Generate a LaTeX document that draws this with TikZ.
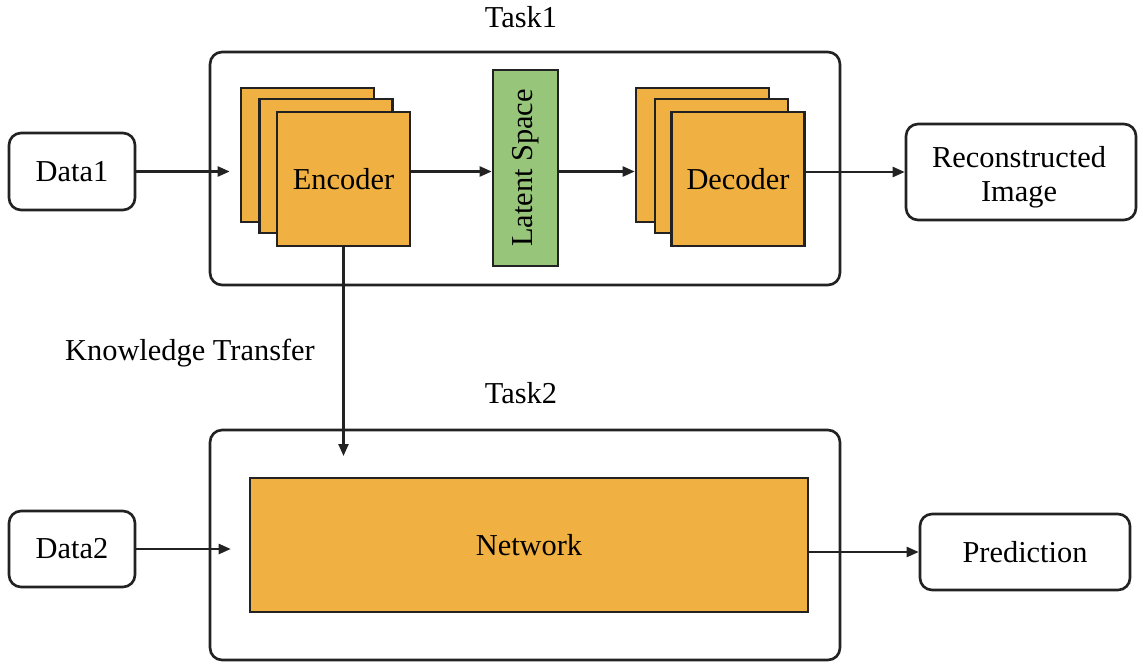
\documentclass[tikz,border=0pt]{standalone}
\usepackage{fontspec}
\setmainfont{Liberation Serif}
\usetikzlibrary{arrows.meta}
\definecolor{blockorange}{HTML}{F0B142}
\definecolor{latentgreen}{HTML}{97C67B}
\definecolor{linegray}{HTML}{222222}
\begin{document}
\begin{tikzpicture}[x=0.02cm, y=-0.02cm,
  every node/.style={font=\fontsize{17.3}{19.5}\selectfont, align=center},
  taskbox/.style={draw=linegray, line width=1.5pt, rounded corners=0.24cm, minimum width=12.6cm},
  iobox/.style={draw=linegray, line width=1.5pt, rounded corners=0.24cm, fill=white},
  layer/.style={draw=linegray, line width=1.5pt, fill=blockorange, minimum width=2.66cm, minimum height=2.68cm},
  arr/.style={draw=linegray, line width=1.3pt, -{Triangle[length=0.24cm,width=0.2cm]}}]
\useasboundingbox (0,0) rectangle (1138,662);
% task frames
\node[taskbox, minimum height=4.66cm] (task1) at (525,168.5) {};
\node[taskbox, minimum height=4.6cm] (task2) at (525,545) {};
\node (task1lbl) at (521,17) {Task1};
\node (task2lbl) at (521,393) {Task2};
% inputs and outputs
\node[iobox, minimum width=2.52cm, minimum height=1.54cm] (data1) at (72,171.5) {Data1};
\node[iobox, minimum width=2.52cm, minimum height=1.52cm] (data2) at (72,549) {Data2};
\node[iobox, minimum width=4.6cm, minimum height=1.92cm] (recon) at (1021,172) {};
\node (reconlbl) at (1019,177) {Reconstructed\\Image};
\node[iobox, minimum width=4.2cm, minimum height=1.52cm] (pred) at (1025,552) {Prediction};
% encoder stack
\node[layer] (enc1) at (307.5,155) {};
\node[layer] (enc2) at (326,166) {};
\node[layer] (enc3) at (343.5,179) {Encoder};
% latent space
\node[draw=linegray, line width=1.5pt, fill=latentgreen, minimum width=1.3cm, minimum height=3.92cm] (lat) at (525.5,168) {};
\node[rotate=90] (latlbl) at (lat) {Latent Space};
% decoder stack
\node[layer] (dec1) at (702.5,155) {};
\node[layer] (dec2) at (721.5,166) {};
\node[layer] (dec3) at (738,179) {Decoder};
% network
\node[layer, minimum width=11.16cm] (net) at (529,545) {Network};
% connectors
\draw[arr, shorten >=0.2cm] (data1.east) -- (data1 -| enc1.west);
\draw[arr] (enc3.east |- data1) -- (lat.west |- data1);
\draw[arr] (lat.east |- data1) -- (dec1.west |- data1);
\draw[arr] (dec3.east |- recon) -- (recon.west);
\coordinate (kt) at (344,456);
\draw[arr] (enc3.south) -- (enc3.south |- kt);
\node (ktlbl) at (190,353) {Knowledge Transfer};
\draw[arr, shorten >=0.36cm] (data2.east) -- (data2 -| net.west);
\draw[arr] (net.east |- pred) -- (pred.west);
\end{tikzpicture}
\end{document}
